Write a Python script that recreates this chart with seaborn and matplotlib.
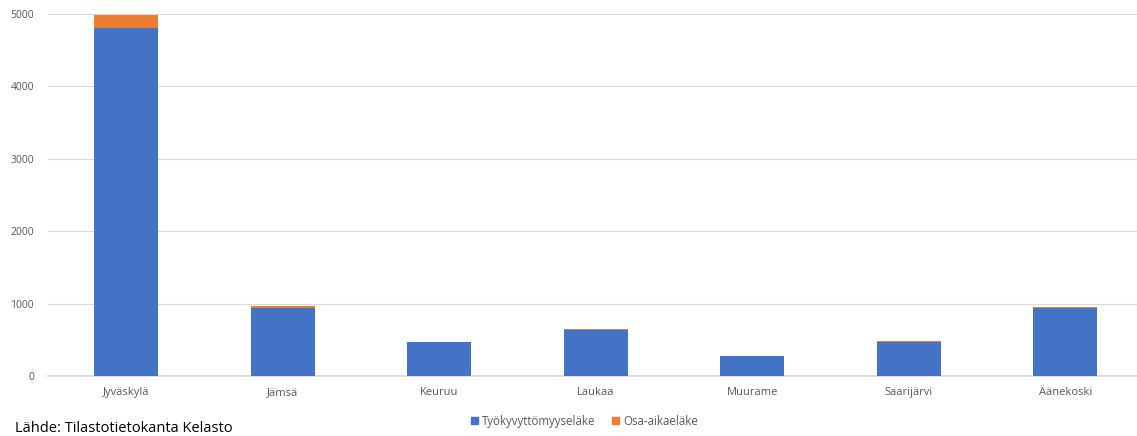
import pandas as pd
import seaborn as sns
import matplotlib.pyplot as plt
from matplotlib.patches import Patch

# data
kunnat = ['Jyväskylä', 'Jämsä', 'Keuruu', 'Laukaa', 'Muurame', 'Saarijärvi', 'Äänekoski']
tyokyvyttomyyselake = [4800, 935, 465, 640, 270, 470, 945]
osa_aikaelake = [190, 25, 10, 9, 6, 9, 12]

blue = '#4472C4'
orange = '#ED7D31'
grey = '#595959'

df = pd.DataFrame({'kunta': kunnat,
                   'tk': tyokyvyttomyyselake,
                   'oa': osa_aikaelake})
df['yht'] = df['tk'] + df['oa']

sns.set_theme(style='white')
plt.rcParams['font.family'] = ['Open Sans', 'DejaVu Sans']

fig = plt.figure(figsize=(11.37, 4.36), dpi=100)
ax = fig.add_axes([0.0422, 0.1376, 0.9635, 0.8304])

# pinottu pylväs: ensin summa oranssilla, sitten sininen päälle
sns.barplot(data=df, x='kunta', y='yht', color=orange, saturation=1,
            width=0.41, linewidth=0, ax=ax, zorder=2)
sns.barplot(data=df, x='kunta', y='tk', color=blue, saturation=1,
            width=0.41, linewidth=0, ax=ax, zorder=3)

ax.set_ylim(0, 5000)
ax.set_xlim(-0.5, 6.5)
ax.set_yticks([0, 1000, 2000, 3000, 4000, 5000])
ax.yaxis.grid(True, color='#d9d9d9', linewidth=0.8, zorder=0)
ax.set_axisbelow(True)
for s in ['top', 'right', 'left']:
    ax.spines[s].set_visible(False)
ax.spines['bottom'].set_color('#d9d9d9')
ax.tick_params(axis='y', labelsize=7.5, colors=grey, length=0, pad=10)
ax.tick_params(axis='x', labelsize=8, colors=grey, length=0, pad=14)
for lbl in ax.get_xticklabels():
    lbl.set_verticalalignment('baseline')
ax.set_xlabel('')
ax.set_ylabel('')

handles = [Patch(color=blue, label='Työkyvyttömyyseläke'),
           Patch(color=orange, label='Osa-aikaeläke')]
fig.legend(handles=handles, loc='center', bbox_to_anchor=(0.514, 0.034),
           ncol=2, frameon=False, fontsize=8.3, labelcolor=grey,
           handlelength=0.6, handleheight=0.6, handletextpad=0.3,
           columnspacing=1.5)

fig.text(0.013, 0.018, 'Lähde: Tilastotietokanta Kelasto', fontsize=10.5,
         color='black', ha='left', va='center')

plt.savefig('out.png', dpi=100)
